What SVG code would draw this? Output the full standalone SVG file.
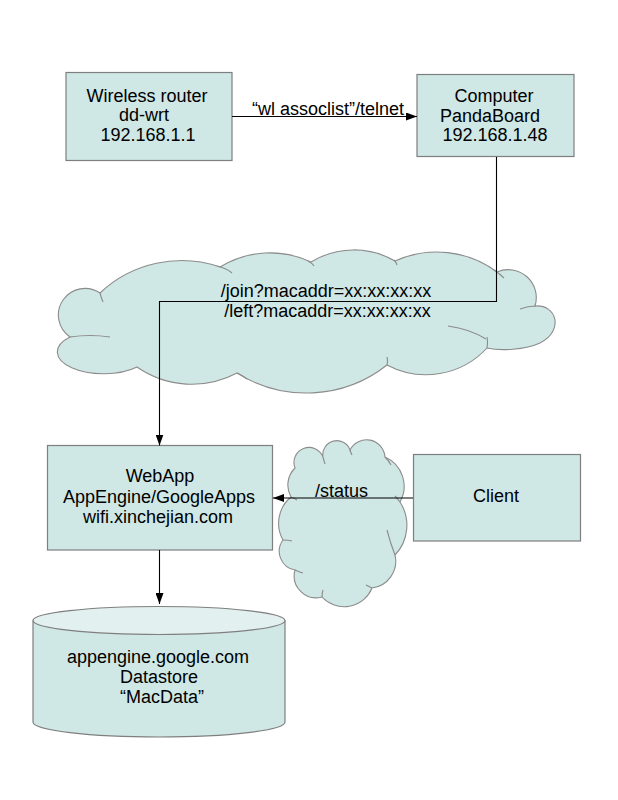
<svg xmlns="http://www.w3.org/2000/svg" width="618" height="800" viewBox="0 0 618 800">
<style>
.box{fill:#CFE7E5;stroke:#7F7F7F;stroke-width:1.2}
.cloud{fill:#CFE7E5;stroke:#8C8C8C;stroke-width:1.1}
.crease{fill:none;stroke:#8C8C8C;stroke-width:1.1}
.conn{fill:none;stroke:#000;stroke-width:1.1}
text{font-family:"Liberation Sans",Arial,sans-serif;font-size:18px;fill:#000;text-anchor:middle}
</style>
<defs>
<marker id="arr" markerWidth="12" markerHeight="8" refX="11" refY="4" orient="auto" markerUnits="userSpaceOnUse">
<path d="M0,0 L11,4 L0,8 Z" fill="#000"/>
</marker>
</defs>
<rect width="618" height="800" fill="#fff"/>

<g id="internet-cloud">
<path class="cloud" d="M100,293 A119,119 0 0 1 220,267 A96,96 0 0 1 311,262 A82,82 0 0 1 395,261 A101,101 0 0 1 497,272 A28,28 0 0 1 535,306 C556,304 565,330 540,343 C525,350 500,351 487,348 A83,83 0 0 1 387,365 A130,130 0 0 1 237,373 A96,96 0 0 1 137,367 A36,17 0 0 1 70,337 A26,26 0 0 1 100,293 Z"/>
<path class="crease" d="M217,266 Q226,268 232,273 M308,261 Q312,263 314,266 M394,260 Q396,262 397,265 M494,270 Q500,274 504,278 M536,306 Q528,306 520,309 M487,348 Q488,342 487,337 M448,326 Q470,329 486,339 M237,373 Q242,375 247,379 M70,337 Q90,334 110,337 M100,293 Q101,297 103,302 M387,365 Q388,361 387,357"/>
</g>

<g id="status-cloud">
<path class="cloud" d="M295,468 A15,15 0 0 1 323,457 A14,14 0 0 1 350,450 A18.5,18.5 0 0 1 385,457 A32,32 0 0 1 400,502 A43,43 0 0 1 395,555 A27,27 0 0 1 372,588 A30,30 0 0 1 322,597 A22,22 0 0 1 295,570 A19,19 0 0 1 283,540 A34,34 0 0 1 291,497 A24,24 0 0 1 295,468 Z"/>
<path class="crease" d="M323,457 Q324,461 325,464 M350,450 Q351,453 352,455 M385,457 Q389,461 391,465 M400,502 Q397,498 395,496 M387,530 Q390,542 395,555 M372,588 Q368,586 366,585 M322,597 Q322,593 323,590 M295,570 Q299,572 303,573 M283,540 Q288,540 292,541 M291,497 Q294,498 297,500"/>
</g>

<g id="router">
<rect class="box" x="66" y="72.5" width="166" height="88"/>
<text x="147" y="102">Wireless router</text>
<text x="144" y="121">dd-wrt</text>
<text x="148" y="141">192.168.1.1</text>
</g>

<g id="computer">
<rect class="box" x="417" y="74.5" width="157" height="82"/>
<text x="494" y="102">Computer</text>
<text x="490" y="122">PandaBoard</text>
<text x="495" y="141">192.168.1.48</text>
</g>

<g id="webapp">
<rect class="box" x="47.5" y="445.5" width="225" height="104.5"/>
<text x="160" y="482">WebApp</text>
<text x="159" y="503">AppEngine/GoogleApps</text>
<text x="158" y="523">wifi.xinchejian.com</text>
</g>

<g id="client">
<rect class="box" x="413.5" y="454.5" width="167" height="86.5"/>
<text x="496" y="502">Client</text>
</g>

<g id="datastore">
<path class="box" d="M33,620.5 L33,722 A126,15 0 0 0 285,722 L285,620.5"/>
<ellipse cx="159" cy="620.5" rx="126" ry="14" fill="#E2F0EF" stroke="#7F7F7F" stroke-width="1.2"/>
<text x="158" y="663">appengine.google.com</text>
<text x="159" y="683">Datastore</text>
<text x="162" y="703">“MacData”</text>
</g>

<g id="connectors">
<path class="conn" d="M232,116.5 L417,116.5" marker-end="url(#arr)"/>
<path class="conn" d="M496.5,157 L496.5,301.5 L159.5,301.5 L159.5,445.5" marker-end="url(#arr)"/>
<path class="conn" d="M159.5,550 L159.5,604" marker-end="url(#arr)"/>
<path class="conn" d="M413,498 L273,498" marker-end="url(#arr)"/>
</g>

<g id="labels">
<text x="328" y="115">“wl assoclist”/telnet</text>
<text x="326" y="296.5">/join?macaddr=xx:xx:xx:xx</text>
<text x="327.5" y="317">/left?macaddr=xx:xx:xx:xx</text>
<text x="341.5" y="497">/status</text>
</g>
</svg>
